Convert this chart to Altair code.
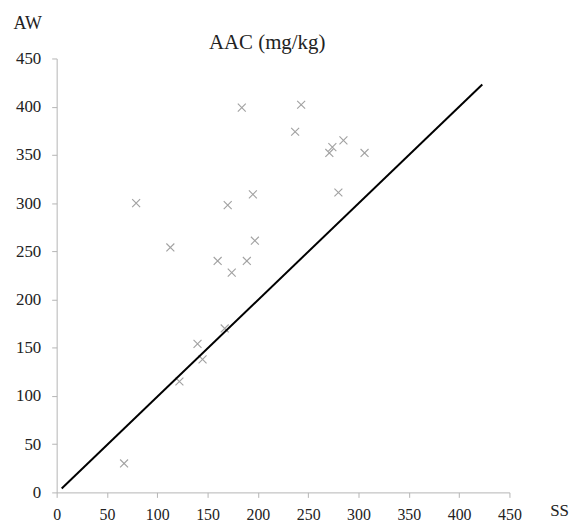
import altair as alt
import pandas as pd

ss = [67, 79, 113, 122, 140, 145, 160, 167, 170, 174, 184, 189, 195, 197,
      237, 243, 271, 274, 280, 285, 306]
aw = [30, 300, 254, 115, 154, 138, 240, 170, 298, 228, 399, 240, 309, 261,
      374, 402, 352, 358, 311, 365, 352]
line_x = [5, 423]
line_y = [4, 423]
ticks = [0, 50, 100, 150, 200, 250, 300, 350, 400, 450]
title_text = ["AAC (mg/kg)"]

pts = pd.DataFrame({"SS": ss, "AW": aw})
ln = pd.DataFrame({"SS": line_x, "AW": line_y})
tt = pd.DataFrame({"t": title_text})

FONT = "Liberation Serif"

xscale = alt.Scale(domain=[0, 450], nice=False, zero=False)
yscale = alt.Scale(domain=[0, 450], nice=False, zero=False)

xaxis = alt.Axis(values=ticks, grid=False, domainColor="#b4b4b4", tickColor="#b4b4b4",
                 tickSize=5, labelFont=FONT, labelFontSize=16, labelColor="#222222",
                 labelPadding=9, title="SS", titleFont=FONT, titleFontSize=17,
                 titleFontWeight="normal", titleColor="#222222", titleX=506, titleY=23,
                 titleAlign="center", titleBaseline="alphabetic", labelFlush=False)
yaxis = alt.Axis(values=ticks, grid=False, domainColor="#b4b4b4", tickColor="#b4b4b4",
                 tickSize=5, labelFont=FONT, labelFontSize=17, labelColor="#222222",
                 labelPadding=11, title="AW", titleFont=FONT, titleFontSize=18,
                 titleFontWeight="normal", titleColor="#222222", titleAngle=0,
                 titleX=-44, titleY=-30, titleAlign="left", titleBaseline="alphabetic",
                 labelFlush=False)

points = alt.Chart(pts).mark_point(
    shape="M-1,-1L1,1M-1,1L1,-1", size=64, color="#7a7a7a", strokeWidth=1.1, filled=False
).encode(
    x=alt.X("SS:Q", scale=xscale, axis=xaxis),
    y=alt.Y("AW:Q", scale=yscale, axis=yaxis),
)

line = alt.Chart(ln).mark_line(color="black", strokeWidth=2).encode(
    x=alt.X("SS:Q", scale=xscale),
    y=alt.Y("AW:Q", scale=yscale),
)

title = alt.Chart(tt).mark_text(
    font=FONT, fontSize=21, color="#222222", align="center", baseline="alphabetic"
).encode(
    x=alt.value(212), y=alt.value(-10), text="t:N"
)

chart = alt.layer(points, line, title).properties(
    width=456, height=437,
    autosize=alt.AutoSizeParams(type="none"),
    padding={"left": 49, "top": 49, "right": 64, "bottom": 31},
).configure_view(stroke=None)

chart.save("out.html", embed_options={"renderer": "svg", "actions": False})
